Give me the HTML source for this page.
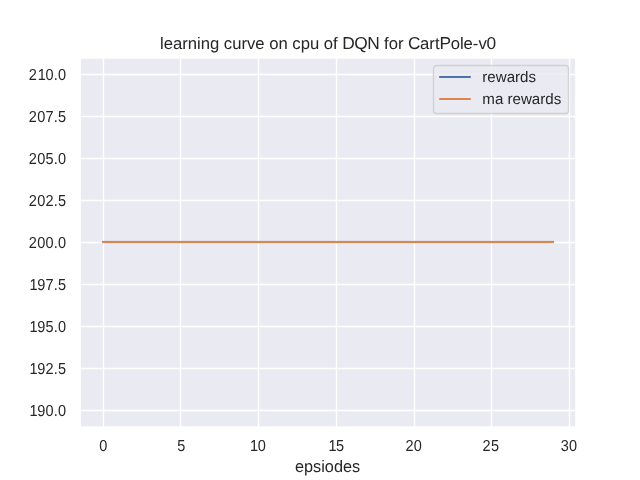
<!DOCTYPE html>
<html lang="en"><head><meta charset="utf-8"><title>learning curve on cpu of DQN for CartPole-v0</title>
<style>
html,body{margin:0;padding:0;background:#fff;width:640px;height:480px;overflow:hidden}
svg{display:block}
text{font-family:"Liberation Sans",Arial,sans-serif;fill:#262626;text-rendering:geometricPrecision}
.t11{font-size:15.278px}
.t12{font-size:16.667px}
.cap{font-size:17.333px}
.g{stroke:#fff;stroke-width:1.389;stroke-linecap:round;fill:none}
.s{stroke:#fff;stroke-width:1.736;stroke-linecap:square;fill:none}
.ln{stroke-width:2.083;stroke-linecap:round;fill:none}
</style></head>
<body>
<svg width="640" height="480" viewBox="0 0 640 480">
<rect x="0" y="0" width="640" height="480" fill="#ffffff"/>
<rect x="80.00" y="58.00" width="496.00" height="369.00" fill="#eaeaf2"/>
<clipPath id="c"><rect x="80.00" y="58.00" width="496.00" height="369.00"/></clipPath>
<g clip-path="url(#c)">
<path class="g" d="M103.50 427.00V58.00"/>
<path class="g" d="M180.50 427.00V58.00"/>
<path class="g" d="M258.50 427.00V58.00"/>
<path class="g" d="M336.50 427.00V58.00"/>
<path class="g" d="M414.50 427.00V58.00"/>
<path class="g" d="M491.50 427.00V58.00"/>
<path class="g" d="M569.50 427.00V58.00"/>
<path class="g" d="M80.00 410.50H576.00"/>
<path class="g" d="M80.00 368.50H576.00"/>
<path class="g" d="M80.00 326.50H576.00"/>
<path class="g" d="M80.00 284.50H576.00"/>
<path class="g" d="M80.00 242.50H576.00"/>
<path class="g" d="M80.00 200.50H576.00"/>
<path class="g" d="M80.00 158.50H576.00"/>
<path class="g" d="M80.00 116.50H576.00"/>
<path class="g" d="M80.00 74.50H576.00"/>
</g>
<text class="t11" transform="translate(103.35 451.47) scale(0.950 1.040)" x="-4.37">0</text>
<text class="t11" transform="translate(181.29 451.47) scale(0.950 1.040)" x="-4.37">5</text>
<text class="t11" transform="translate(257.73 451.47) scale(0.950 1.040)" x="-8.04 0.00">10</text>
<text class="t11" transform="translate(336.07 451.47) scale(0.950 1.040)" x="-8.04 0.00">15</text>
<text class="t11" transform="translate(413.87 451.47) scale(0.950 1.040)" x="-8.74 0.00">20</text>
<text class="t11" transform="translate(490.91 451.47) scale(0.950 1.040)" x="-8.74 0.00">25</text>
<text class="t11" transform="translate(568.95 451.47) scale(0.950 1.040)" x="-8.74 0.00">30</text>
<text class="t11" transform="translate(66.21 415.94) scale(0.950 1.040)" x="-38.62 -30.58 -21.84 -13.11 -8.74">190.0</text>
<text class="t11" transform="translate(66.21 373.94) scale(0.950 1.040)" x="-38.62 -30.58 -21.84 -13.11 -8.74">192.5</text>
<text class="t11" transform="translate(66.21 331.94) scale(0.950 1.040)" x="-38.62 -30.58 -21.84 -13.11 -8.74">195.0</text>
<text class="t11" transform="translate(66.21 289.94) scale(0.950 1.040)" x="-38.62 -30.58 -21.84 -13.11 -8.74">197.5</text>
<text class="t11" transform="translate(66.21 247.94) scale(0.950 1.040)" x="-39.32 -30.58 -21.84 -13.11 -8.74">200.0</text>
<text class="t11" transform="translate(66.21 205.94) scale(0.950 1.040)" x="-39.32 -30.58 -21.84 -13.11 -8.74">202.5</text>
<text class="t11" transform="translate(66.21 163.94) scale(0.950 1.040)" x="-39.32 -30.58 -21.84 -13.11 -8.74">205.0</text>
<text class="t11" transform="translate(66.21 121.94) scale(0.950 1.040)" x="-39.32 -30.58 -21.84 -13.11 -8.74">207.5</text>
<text class="t11" transform="translate(66.21 79.94) scale(0.950 1.040)" x="-39.32 -29.88 -21.84 -13.11 -8.74">210.0</text>
<text class="t12" text-anchor="middle" transform="translate(327.60 472.27) scale(0.978 1)">epsiodes</text>
<g clip-path="url(#c)">
<rect fill="#4c72b0" x="102.35" y="240.96" width="451.31" height="2.08"/>
<rect fill="#dd8452" x="102.35" y="240.94" width="451.31" height="2.11"/>
</g>
<path class="s" d="M80.00 427.00V58.00"/>
<path class="s" d="M576.00 427.00V58.00"/>
<path class="s" d="M80.00 427.00H576.00"/>
<path class="s" d="M80.00 58.00H576.00"/>
<text class="t12" xml:space="preserve" x="159.97" y="49.27">learning curve on cpu of <tspan class="cap" x="342.21 354.24 367.19">DQN</tspan><tspan x="379.38"> for </tspan><tspan class="cap" x="407.93">C</tspan><tspan x="420.09">art</tspan><tspan class="cap" x="439.38">P</tspan><tspan x="450.64">ole-v</tspan><tspan class="cap" x="486.60">0</tspan></text>
<g opacity="0.8"><rect x="432.81" y="64.81" width="136.39" height="49.39" rx="3.75" ry="3.75" fill="#cccccc"/><rect x="434.19" y="66.19" width="133.61" height="46.61" rx="2.36" ry="2.36" fill="#eaeaf2"/></g>
<path class="ln" stroke="#4c72b0" d="M440.00 77.00H470.00"/>
<text class="t11" transform="translate(482.30 82.42) scale(0.99 1)">rewards</text>
<path class="ln" stroke="#dd8452" d="M440.00 99.00H470.00"/>
<text class="t11" transform="translate(482.30 104.30) scale(0.99 1)">ma rewards</text>
</svg>
</body></html>
